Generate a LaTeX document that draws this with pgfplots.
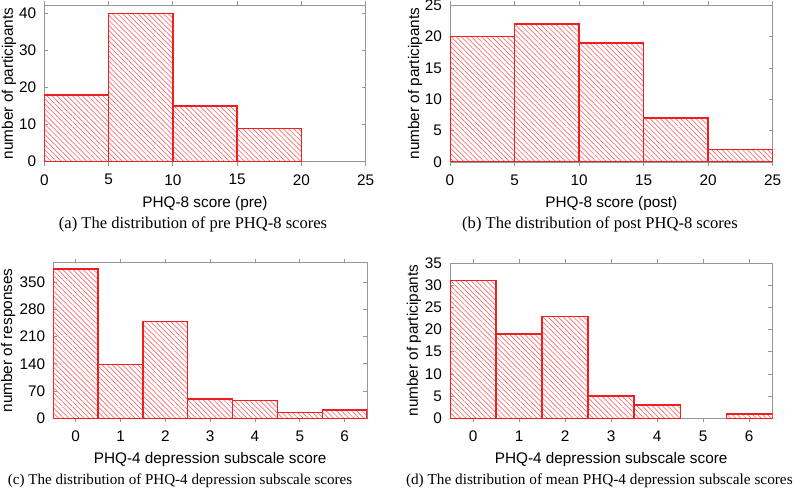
\documentclass[border=0pt]{standalone}
\usepackage{pgfplots}
\pgfplotsset{compat=1.18}
\usepackage{fontspec}
\setmainfont{Liberation Sans}
\newfontfamily\capfont{Liberation Serif}
\usetikzlibrary{patterns.meta}
\definecolor{axgray}{RGB}{150,150,150}
\definecolor{barred}{RGB}{240,30,30}
\pgfplotsset{
  hist/.style={
    scale only axis,
    axis line style={axgray, line width=0.6pt},
    tick style={axgray, line width=0.6pt},
    tick align=inside,
    major tick length=3pt,
    ymin=0,
    font=\fontsize{11.5pt}{13pt}\selectfont,
    ticklabel style={font=\fontsize{11.5pt}{13pt}\selectfont},
    /pgf/number format/assume math mode=true,
    xticklabel style={yshift=-3pt},
    yticklabel style={xshift=-2.5pt},
    ybar, bar shift=0pt,
    every axis plot/.append style={
      draw=barred, line width=1pt,
      postaction={pattern={Lines[angle=-45,distance=2.7pt,line width=0.5pt]}, pattern color=barred!65}
    },
  },
}
\begin{document}
\begin{tikzpicture}
\useasboundingbox (0,0) rectangle (600pt,372.75pt);
% (a)
\begin{axis}[hist, at={(33.225pt,251.475pt)}, anchor=south west,
  width=241.05pt, height=117.5pt,
  xmin=0, xmax=25, ymax=42.2, xtick={0,5,...,25}, ytick={0,10,...,40},
  bar width=5,
  xlabel={PHQ-8 score (pre)}, ylabel={number of participants},
  xlabel style={at={(axis description cs:0.5,-0.265)}, anchor=center},
  ylabel style={at={(axis description cs:-0.11,0.5)}, anchor=center}]
\addplot[fill=none] coordinates {(2.5,18) (7.5,40) (12.5,15) (17.5,9)};
\end{axis}
% (b)
\begin{axis}[hist, at={(337.5pt,251.25pt)}, anchor=south west,
  width=242pt, height=117.5pt,
  xmin=0, xmax=25, ymax=25, xtick={0,5,...,25}, ytick={0,5,...,25},
  bar width=5,
  xlabel={PHQ-8 score (post)}, ylabel={number of participants},
  xlabel style={at={(axis description cs:0.5,-0.265)}, anchor=center},
  ylabel style={at={(axis description cs:-0.108,0.5)}, anchor=center}]
\addplot[fill=none] coordinates {(2.5,20) (7.5,22) (12.5,19) (17.5,7) (22.5,2)};
\end{axis}
% (c)
\begin{axis}[hist, at={(39.975pt,59.025pt)}, anchor=south west,
  width=235.3pt, height=116.7pt,
  xmin=-0.5, xmax=6.5, ymax=400, xtick={0,...,6}, ytick={0,70,...,350},
  bar width=1,
  xlabel={PHQ-4 depression subscale score}, ylabel={number of responses},
  xlabel style={at={(axis description cs:0.5,-0.265)}, anchor=center},
  ylabel style={at={(axis description cs:-0.144,0.5)}, anchor=center}]
\addplot[fill=none] coordinates {(0,384) (1,139) (2,249) (3,50) (4,46) (5,15) (6,21)};
\end{axis}
% (d)
\begin{axis}[hist, at={(337.5pt,59.025pt)}, anchor=south west,
  width=241.7pt, height=116.5pt,
  xmin=-0.5, xmax=6.5, ymax=35, xtick={0,...,6}, ytick={0,5,...,35},
  bar width=1,
  xlabel={PHQ-4 depression subscale score}, ylabel={number of participants},
  xlabel style={at={(axis description cs:0.5,-0.265)}, anchor=center},
  ylabel style={at={(axis description cs:-0.112,0.5)}, anchor=center}]
\addplot[fill=none] coordinates {(0,31) (1,19) (2,23) (3,5) (4,3) (6,1)};
\end{axis}
\begin{scope}[every node/.style={inner sep=0pt}]
\node[font=\capfont\fontsize{12.4pt}{14pt}\selectfont] at (144.75pt,204.5pt) {(a) The distribution of pre PHQ-8 scores};
\node[font=\capfont\fontsize{12.4pt}{14pt}\selectfont] at (450pt,204.5pt) {(b) The distribution of post PHQ-8 scores};
\node[font=\capfont\fontsize{11.3pt}{13pt}\selectfont] at (135pt,12.5pt) {(c) The distribution of PHQ-4 depression subscale scores};
\node[font=\capfont\fontsize{11.45pt}{13pt}\selectfont] at (449.5pt,12.5pt) {(d) The distribution of mean PHQ-4 depression subscale scores};
\end{scope}
\end{tikzpicture}
\end{document}
